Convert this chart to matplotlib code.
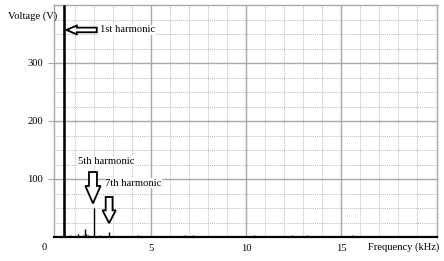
import numpy as np
import matplotlib.pyplot as plt
from matplotlib.patches import FancyArrow

# ---------------------------------------------------------------
# Spectrum data
# ---------------------------------------------------------------
freq = [0.4, 0.75, 1.17, 1.45, 1.53, 1.6, 1.68, 2.0, 2.3, 2.8, 4.3, 5.05,
        6.8, 7.2, 7.6, 9.2, 10.4, 12.4, 13.2, 14.8, 15.6]        # [kHz]
volt = [400, 3, 5, 4, 14, 6, 3, 50, 3, 9, 3, 2,
        3, 4, 2, 2, 3, 3, 3, 2, 3]                                 # [V]

xticks = [5, 10, 15]
yticks = [100, 200, 300]

# ---------------------------------------------------------------
# Plot
# ---------------------------------------------------------------
plt.rcParams['font.family'] = ['Liberation Serif', 'DejaVu Serif']
fs = 7.6

fig = plt.figure(figsize=(4.44, 2.61), dpi=100)
ax = fig.add_axes([54 / 444, 24 / 261, 383 / 444, 232 / 261])

ax.set_xlim(-0.1, 20.05)
ax.set_ylim(0, 400)

ax.set_xticks(xticks)
ax.set_xticks(np.arange(1, 20, 1), minor=True)
ax.set_yticks(yticks)
ax.set_yticks(np.arange(25, 400, 25), minor=True)

ax.grid(which="major", color="#a8a8a8", lw=1.0, ls="-")
ax.grid(which="minor", color="#bbbbbb", lw=0.7, ls=(0, (1, 1)))
ax.set_axisbelow(True)

ax.tick_params(axis="x", which="both", length=0, labelsize=fs, pad=5)
ax.tick_params(axis="y", which="major", length=4, color="#a8a8a8",
               labelsize=fs, pad=4)
ax.tick_params(axis="y", which="minor", length=0)

for s in ["top", "right", "left"]:
    ax.spines[s].set_color("#a8a8a8")
    ax.spines[s].set_linewidth(1.0)
ax.spines["bottom"].set_color("black")
ax.spines["bottom"].set_linewidth(1.6)

ax.vlines(freq, 0, volt, color="black", lw=1.0, zorder=3)
ax.vlines(freq[0], 0, volt[0], color="black", lw=1.8, zorder=3)

# labels
fig.text(8 / 444, 1 - 16 / 261, "Voltage (V)", fontsize=fs, va="center")
fig.text(368 / 444, 1 - 247 / 261, "Frequency (kHz)", fontsize=fs, va="center")
fig.text(44 / 444, 1 - 247 / 261, "0", fontsize=fs, va="center", ha="center")

box = dict(facecolor="white", edgecolor="none", pad=0.3)
arrow_style = dict(facecolor="white", edgecolor="black", lw=1.3, zorder=5)

# 1st harmonic arrow (pointing left)
ax.add_patch(FancyArrow(2.15, 357, -1.6, 0, width=8, head_width=15,
                        head_length=0.55, length_includes_head=True,
                        **arrow_style))
ax.text(2.3, 357, "1st harmonic", fontsize=fs, va="center", ha="left",
        bbox=box, zorder=4)

# 5th harmonic arrow (pointing down)
ax.text(1.15, 131, "5th harmonic", fontsize=fs, va="center", ha="left",
        bbox=box, zorder=4)
ax.add_patch(FancyArrow(1.95, 112, 0, -54, width=0.42, head_width=0.8,
                        head_length=30, length_includes_head=True,
                        **arrow_style))

# 7th harmonic arrow (pointing down)
ax.text(2.6, 93, "7th harmonic", fontsize=fs, va="center", ha="left",
        bbox=box, zorder=4)
ax.add_patch(FancyArrow(2.8, 69, 0, -45, width=0.36, head_width=0.7,
                        head_length=22, length_includes_head=True,
                        **arrow_style))

fig.savefig("out.png", dpi=100)
